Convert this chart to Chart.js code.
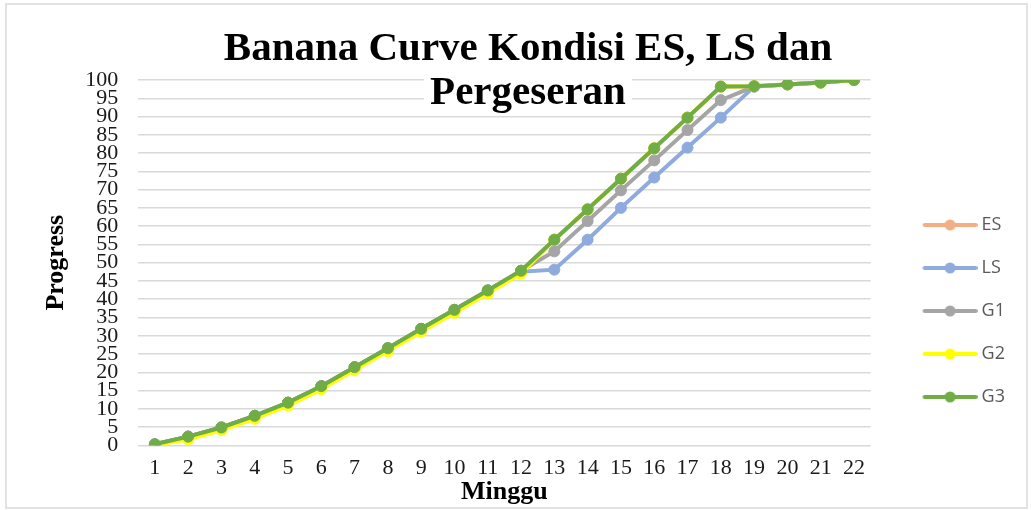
<!DOCTYPE html>
<html>
<head>
<meta charset="utf-8">
<script src="https://cdn.jsdelivr.net/npm/chart.js@4.4.1/dist/chart.umd.min.js"></script>
<style>
  html, body { margin: 0; padding: 0; background: #fff; }
  #wrap { position: relative; width: 1031px; height: 510px; }
  #frame {
    position: absolute; left: 5px; top: 3px; width: 1023px; height: 506px;
    box-sizing: border-box; border: 2px solid #e2e2e2; pointer-events: none;
  }
</style>
</head>
<body>
<div id="wrap">
  <canvas id="bananaChart" width="1031" height="510"></canvas>
  <div id="frame"></div>
</div>
<script>
const weeks = ['1', '2', '3', '4', '5', '6', '7', '8', '9', '10', '11',
               '12', '13', '14', '15', '16', '17', '18', '19', '20', '21', '22'];

const esValues = [0.3, 2.4, 4.9, 8.1, 11.7, 16.2, 21.4, 26.6, 31.9, 37.1, 42.4,
                  47.8, 56.3, 64.6, 73.0, 81.3, 89.7, 98.2, 98.3, 98.8, 99.3, 100];
const lsValues = [0.3, 2.4, 4.9, 8.1, 11.7, 16.2, 21.4, 26.6, 31.9, 37.1, 42.4,
                  47.5, 48.1, 56.3, 65.0, 73.3, 81.5, 89.7, 98.2, 98.8, 99.3, 100];
const g1Values = [0.3, 2.4, 4.9, 8.1, 11.7, 16.2, 21.4, 26.6, 31.9, 37.1, 42.4,
                  47.8, 53.1, 61.4, 69.8, 78.0, 86.3, 94.5, 98.2, 98.8, 99.3, 100];
const g2Values = [0, 1.7, 4.2, 7.3, 10.9, 15.4, 20.6, 25.8, 31.1, 36.3, 41.6,
                  47.0, 56.3, 64.6, 73.0, 81.3, 89.7, 98.2, 98.3, 98.8, 99.3, 100];
const g3Values = [0.3, 2.4, 4.9, 8.1, 11.7, 16.2, 21.4, 26.6, 31.9, 37.1, 42.4,
                  47.8, 56.3, 64.6, 73.0, 81.3, 89.7, 98.2, 98.3, 98.8, 99.3, 100];

const seriesNames = ['ES', 'LS', 'G1', 'G2', 'G3'];
const seriesColors = ['#F4AE84', '#8FAADC', '#A5A5A5', '#FFFF00', '#70AD47'];
const seriesValues = [esValues, lsValues, g1Values, g2Values, g3Values];

const titleLines = ['Banana Curve Kondisi ES, LS dan', 'Pergeseran'];
const titleFont = { family: 'Liberation Serif', size: 41, weight: 'bold', lineHeight: 44 / 41 };
const titlePadTop = 22;

// little line + marker picture for each legend entry (like the excel legend)
function makeLegendIcon(color) {
    const c = document.createElement('canvas');
    c.width = 87;
    c.height = 14;
    const ctx = c.getContext('2d');
    ctx.strokeStyle = color;
    ctx.lineWidth = 4;
    ctx.lineCap = 'round';
    ctx.beginPath();
    ctx.moveTo(34, 7);
    ctx.lineTo(85, 7);
    ctx.stroke();
    ctx.fillStyle = color;
    ctx.beginPath();
    ctx.arc(59.5, 7, 5.5, 0, Math.PI * 2);
    ctx.fill();
    return c;
}
const legendIcons = seriesColors.map(makeLegendIcon);

// white box behind the title so it hides the gridlines (as in the excel chart)
const titleBackground = {
    id: 'titleBackground',
    afterLayout(chart) {
        const t = chart.titleBlock;
        if (!t || t._patched) return;
        const origDraw = t.draw.bind(t);
        t.draw = function() {
            const ctx = chart.ctx;
            const lh = titleFont.size * titleFont.lineHeight;
            ctx.save();
            ctx.font = 'bold ' + titleFont.size + 'px "Liberation Serif"';
            const w = ctx.measureText(titleLines[1]).width;
            const cx = (t.left + t.right) / 2;
            const cy = t.top + titlePadTop + lh / 2 + lh;
            ctx.fillStyle = '#ffffff';
            ctx.fillRect(cx - w / 2 - 6, cy - lh / 2, w + 12, lh);
            ctx.restore();
            origDraw();
        };
        t._patched = true;
    }
};

const ctx = document.getElementById('bananaChart').getContext('2d');
new Chart(ctx, {
    type: 'line',
    data: {
        labels: weeks,
        datasets: seriesNames.map((name, i) => ({
            label: name,
            data: seriesValues[i],
            borderColor: seriesColors[i],
            backgroundColor: seriesColors[i],
            pointBackgroundColor: seriesColors[i],
            pointBorderColor: seriesColors[i],
            borderWidth: 4,
            pointRadius: 5.5,
            pointBorderWidth: 1,
            tension: 0,
            order: seriesNames.length - 1 - i
        }))
    },
    options: {
        responsive: false,
        animation: false,
        devicePixelRatio: 1,
        layout: {
            padding: { left: 41, right: 16, top: 5, bottom: 2 }
        },
        plugins: {
            title: {
                display: true,
                text: titleLines,
                color: '#000000',
                font: titleFont,
                padding: { top: titlePadTop, bottom: -35 }
            },
            legend: {
                position: 'right',
                align: 'center',
                title: {
                    display: true,
                    text: '',
                    font: { size: 12 },
                    padding: { top: 94.6, bottom: 0 }
                },
                labels: {
                    usePointStyle: true,
                    pointStyleWidth: 77,
                    padding: 25,
                    color: '#595959',
                    font: { family: 'Open Sans', size: 18 },
                    sort: (a, b) => a.datasetIndex - b.datasetIndex,
                    generateLabels(chart) {
                        const items = Chart.defaults.plugins.legend.labels.generateLabels(chart);
                        items.forEach(item => { item.pointStyle = legendIcons[item.datasetIndex]; });
                        return items;
                    }
                }
            },
            tooltip: { enabled: false }
        },
        scales: {
            x: {
                offset: true,
                grid: { display: false, drawTicks: false },
                border: { display: false },
                ticks: {
                    color: '#1a1a1a',
                    font: { family: 'Liberation Serif', size: 22 },
                    padding: 10,
                    autoSkip: false,
                    maxRotation: 0
                },
                title: {
                    display: true,
                    text: 'Minggu',
                    color: '#000000',
                    font: { family: 'Liberation Serif', size: 26, weight: 'bold' },
                    padding: { top: -15, bottom: 0 }
                }
            },
            y: {
                min: 0,
                max: 100,
                grid: { color: '#d9d9d9', lineWidth: 1.5, drawTicks: false },
                border: { display: false },
                ticks: {
                    stepSize: 5,
                    color: '#1a1a1a',
                    font: { family: 'Liberation Serif', size: 22 },
                    padding: 20,
                    autoSkip: false
                },
                title: {
                    display: true,
                    text: 'Progress',
                    color: '#000000',
                    font: { family: 'Liberation Serif', size: 26, weight: 'bold' },
                    padding: { top: 0, bottom: -7 }
                }
            }
        }
    },
    plugins: [titleBackground]
});
</script>
</body>
</html>
